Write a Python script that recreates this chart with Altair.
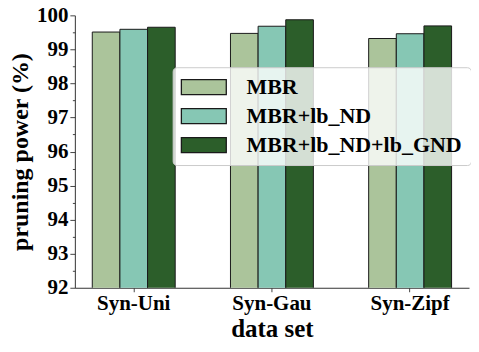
import altair as alt
import pandas as pd

categories = ["Syn-Uni", "Syn-Gau", "Syn-Zipf"]
methods = ["MBR", "MBR+lb_ND", "MBR+lb_ND+lb_GND"]
mbr = [99.51, 99.47, 99.32]
mbr_nd = [99.59, 99.68, 99.46]
mbr_nd_gnd = [99.65, 99.87, 99.69]
colors = ["#abc49b", "#86c7b4", "#2c5e2a"]
y_ticks = [92, 92.5, 93, 93.5, 94, 94.5, 95, 95.5, 96, 96.5, 97, 97.5, 98, 98.5, 99, 99.5, 100]

rows = []
for i, c in enumerate(categories):
    for m, vals in zip(methods, [mbr, mbr_nd, mbr_nd_gnd]):
        rows.append({"dataset": c, "method": m, "value": vals[i]})
df = pd.DataFrame(rows)

FONT = "Liberation Serif"

chart = alt.Chart(df).mark_bar(stroke="#1a1a1a", strokeWidth=1, clip=True).encode(
    x=alt.X("dataset:N", sort=categories,
            scale=alt.Scale(paddingInner=0.40, paddingOuter=0.126),
            axis=alt.Axis(title="data set", labelAngle=0, labelFont=FONT, labelFontSize=21,
                          labelFontWeight="bold", labelColor="black", titleFont=FONT,
                          titleFontSize=25, titleFontWeight="bold", titleColor="black",
                          tickSize=4, labelPadding=1, titlePadding=3,
                          domainColor="#333", tickColor="#444")),
    xOffset=alt.XOffset("method:N", sort=methods, scale=alt.Scale(paddingInner=0, paddingOuter=0)),
    y=alt.Y("value:Q", scale=alt.Scale(domain=[92, 100], zero=False, nice=False),
            axis=alt.Axis(title="pruning power (%)", values=y_ticks,
                          labelExpr="datum.value % 1 == 0 ? format(datum.value, 'd') : ''",
                          tickSize={"condition": {"test": "datum.value % 1 != 0", "value": 2.5}, "value": 5},
                          labelFont=FONT, labelFontSize=21, labelFontWeight="bold", labelColor="black",
                          labelPadding=2, titleFont=FONT, titleFontSize=24, titleFontWeight="bold",
                          titleColor="black", titlePadding=4, grid=False,
                          domainColor="#333", tickColor="#444")),
    color=alt.Color("method:N", sort=methods,
                    scale=alt.Scale(domain=methods, range=colors),
                    legend=alt.Legend(title=None, orient="none", legendX=98, legendY=52,
                                      symbolType="M-1.5,-1 L4.5,-1 L4.5,1 L-1.5,1 Z",
                                      symbolSize=225, symbolStrokeColor="#1a1a1a",
                                      symbolStrokeWidth=1.3, symbolOpacity=1,
                                      labelFont=FONT, labelFontSize=22, labelFontWeight="bold",
                                      labelColor="black", labelOffset=43, rowPadding=7,
                                      padding=9, fillColor="rgba(255,255,255,0.8)",
                                      strokeColor="#cccccc", cornerRadius=4,
                                      labelLimit=400)),
).properties(
    width=395, height=273,
    autosize=alt.AutoSizeParams(type="none"),
    padding={"left": 67, "top": 7, "right": 2, "bottom": 56},
).configure_view(stroke=None)

chart.save("out.html", embed_options={"renderer": "svg", "actions": False})
